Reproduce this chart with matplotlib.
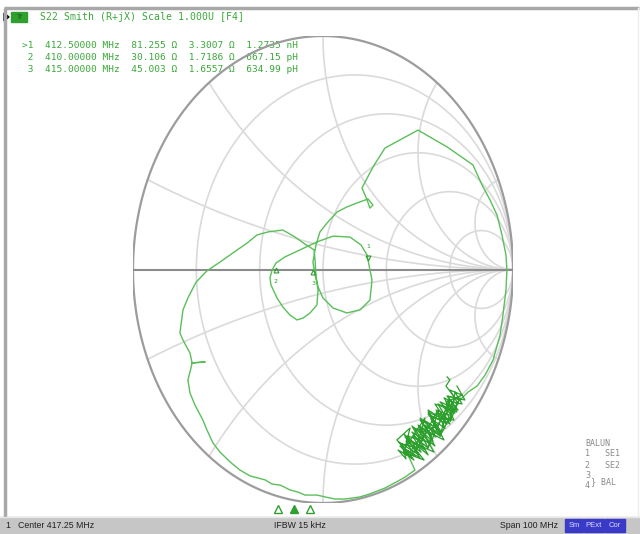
import numpy as np
import matplotlib
matplotlib.use('Agg')
import matplotlib.pyplot as plt
from matplotlib.patches import Rectangle, Polygon
from matplotlib import transforms

# sweep settings
f_center = 417.25  # MHz
f_span = 100.0     # MHz

# markers (freq MHz, R ohm, X ohm, L/C label)
marker_num = [1, 2, 3]
marker_freq = [412.5, 410.0, 415.0]
marker_R = [81.255, 30.106, 45.003]
marker_X = [3.3007, 1.7186, 1.6557]
marker_L = ['1.2735 nH', '667.15 pH', '634.99 pH']
active_marker = 1
Z0 = 50.0

# S22 trace read off the chart, reflection coefficient (real, imag)
# start of sweep (noisy cluster near the lower right edge)
start_re = [0.705, 0.747, 0.653, 0.711, 0.616, 0.679, 0.595, 0.653, 0.553, 0.621, 0.532, 0.595, 0.500,
            0.563, 0.468, 0.537, 0.432, 0.505, 0.400, 0.468, 0.395, 0.437, 0.416, 0.489, 0.447, 0.526,
            0.479, 0.568, 0.511, 0.605, 0.553, 0.647, 0.589, 0.679, 0.637, 0.711, 0.668, 0.732, 0.647,
            0.689, 0.574, 0.637, 0.511, 0.584, 0.447, 0.532, 0.421, 0.479,
            0.389, 0.458, 0.432, 0.537, 0.484, 0.605, 0.553, 0.668, 0.616, 0.721, 0.668, 0.695, 0.732,
            0.658, 0.695, 0.637, 0.668, 0.600, 0.642, 0.568, 0.616, 0.537, 0.579, 0.505, 0.553, 0.474,
            0.516, 0.437, 0.484, 0.411, 0.447]
start_im = [-0.499, -0.559, -0.542, -0.602, -0.567, -0.627, -0.602, -0.662, -0.619, -0.692, -0.645, -0.717, -0.666,
            -0.747, -0.696, -0.773, -0.717, -0.794, -0.739, -0.807, -0.773, -0.811, -0.747, -0.764, -0.713, -0.735,
            -0.679, -0.705, -0.645, -0.679, -0.610, -0.645, -0.576, -0.602, -0.550, -0.576, -0.516, -0.538, -0.567,
            -0.645, -0.636, -0.730, -0.679, -0.782, -0.730, -0.816, -0.782, -0.816,
            -0.730, -0.679, -0.764, -0.636, -0.782, -0.602, -0.764, -0.559, -0.713, -0.550, -0.653, -0.525, -0.576,
            -0.563, -0.615, -0.585, -0.645, -0.610, -0.679, -0.640, -0.713, -0.666, -0.735, -0.687, -0.764, -0.713,
            -0.782, -0.735, -0.799, -0.760, -0.794]
# main sweep: bottom edge, left side, figure eight, top, right edge
main_re = [0.484, 0.432, 0.395, 0.326, 0.247, 0.195, 0.116, 0.063, 0.011, -0.032, -0.095, -0.132, -0.174,
           -0.226, -0.268, -0.305, -0.342, -0.384, -0.437, -0.489, -0.542, -0.579, -0.611, -0.632, -0.674,
           -0.700, -0.711, -0.695, -0.689, -0.621, -0.689, -0.700, -0.737, -0.753, -0.737, -0.711, -0.668,
           -0.611, -0.542, -0.474, -0.400, -0.347, -0.289, -0.211, -0.147, -0.095, -0.047,
           -0.042, -0.037, -0.026, -0.032, -0.068, -0.105, -0.137, -0.174, -0.211, -0.242, -0.274, -0.279,
           -0.268, -0.247, -0.200, -0.121, -0.032, 0.053, 0.142, 0.200, 0.232, 0.242, 0.258, 0.247, 0.195,
           0.126, 0.053, 0.000, -0.026, -0.042, -0.053, -0.037, -0.016, 0.021, 0.074, 0.126, 0.179, 0.237,
           0.263, 0.247, 0.232, 0.205, 0.263, 0.326, 0.500, 0.653, 0.789, 0.837, 0.879, 0.916, 0.942, 0.963,
           0.968, 0.963, 0.947, 0.932, 0.895, 0.853, 0.811, 0.763]
main_im = [-0.859, -0.889, -0.906, -0.936, -0.961, -0.974, -0.983, -0.983, -0.974, -0.966, -0.966, -0.953, -0.944,
           -0.923, -0.919, -0.901, -0.893, -0.884, -0.859, -0.824, -0.782, -0.743, -0.687, -0.645, -0.580,
           -0.529, -0.473, -0.422, -0.400, -0.396, -0.400, -0.358, -0.302, -0.272, -0.173, -0.122, -0.054,
           -0.006, 0.032, 0.071, 0.113, 0.148, 0.161, 0.169, 0.139, 0.109, 0.084,
           0.041, -0.024, -0.088, -0.152, -0.186, -0.208, -0.216, -0.195, -0.161, -0.122, -0.066, -0.036,
           -0.002, 0.028, 0.054, 0.084, 0.118, 0.143, 0.139, 0.105, 0.062, 0.019, -0.045, -0.131, -0.173,
           -0.186, -0.165, -0.122, -0.075, -0.024, 0.032, 0.105, 0.161, 0.199, 0.246, 0.268, 0.285, 0.302,
           0.276, 0.263, 0.298, 0.349, 0.439, 0.520, 0.597, 0.525, 0.448, 0.362, 0.298, 0.233, 0.148, 0.062,
           -0.002, -0.088, -0.195, -0.281, -0.388, -0.452, -0.499, -0.525]
# end of sweep (back into the noisy cluster)
end_re = [0.721, 0.658, 0.705, 0.605, 0.668, 0.553, 0.621, 0.511, 0.589, 0.468, 0.553, 0.426, 0.511,
          0.405, 0.458, 0.500, 0.563, 0.616, 0.668, 0.695, 0.647, 0.668, 0.653]
end_im = [-0.559, -0.542, -0.610, -0.576, -0.662, -0.602, -0.713, -0.636, -0.756, -0.670, -0.794, -0.705, -0.807,
          -0.756, -0.782, -0.730, -0.687, -0.653, -0.593, -0.550, -0.499, -0.473, -0.460]

# smith grid values
r_grid = [0.2, 0.5, 1.0, 2.0, 5.0]
x_grid = [0.2, 0.5, 1.0, 2.0, 5.0]

green = '#5abf5a'
dark_green = '#2c9f2c'
txt_green = '#3aa83a'
grid_col = '#dadada'

fig = plt.figure(figsize=(6.4, 5.34), dpi=100)

# background / frame in pixel coords
bg = fig.add_axes([0, 0, 1, 1])
bg.set_xlim(0, 640)
bg.set_ylim(534, 0)
bg.axis('off')
bg.plot([5, 5], [8, 517], color='#a8a8a8', lw=2.5, solid_capstyle='butt')
bg.plot([4, 639], [8, 8], color='#a8a8a8', lw=2.5, solid_capstyle='butt')
bg.plot([638, 638], [8, 517], color='#eeeeee', lw=1.0)
bg.add_patch(Rectangle((0, 517), 640, 17, color='#c6c6c6', zorder=1))
bg.plot([0, 640], [517, 517], color='#e6e6e6', lw=1.0)

# header
bg.add_patch(Polygon([[4, 13], [4, 21], [9, 17]], closed=True, color='black'))
bg.add_patch(Rectangle((11, 12), 16, 10, color='#2f9f2f'))
bg.text(19, 17, 'Tr', fontsize=5, color='#145f14', ha='center', va='center', family='DejaVu Sans')
bg.text(40, 17, 'S22 Smith (R+jX) Scale 1.000U [F4]', fontsize=7.1, color=txt_green,
        family='DejaVu Sans Mono', va='center')

# marker readout lines
for i, n in enumerate(marker_num):
    pre = '>' if n == active_marker else ' '
    line = '%s%d  %.5f MHz  %.3f Ω  %.4f Ω  %s' % (pre, n, marker_freq[i], marker_R[i], marker_X[i], marker_L[i])
    bg.text(22, 45 + 12 * i, line, fontsize=6.8, color=txt_green, family='DejaVu Sans Mono', va='center')

# status bar
bg.text(5, 526, '1', fontsize=6.3, color='#202020', va='center', family='Liberation Sans')
bg.text(18, 526, 'Center %.2f MHz' % f_center, fontsize=6.3, color='#202020', va='center', family='Liberation Sans')
bg.text(300, 526, 'IFBW 15 kHz', fontsize=6.3, color='#202020', va='center', ha='center', family='Liberation Sans')
bg.text(558, 526, 'Span %d MHz' % f_span, fontsize=6.3, color='#202020', va='center', ha='right',
        family='Liberation Sans')
for x0, w, lab in [(565, 18, 'Sm'), (584, 20, 'PExt'), (605, 20, 'Cor')]:
    bg.add_patch(Rectangle((x0, 519), w, 13, color='#3a3ac8', zorder=2))
    bg.text(x0 + w / 2, 525.5, lab, fontsize=5.5, color='#dcdcff', ha='center', va='center', zorder=3,
            family='Liberation Sans')

# balun legend
leg_col = '#8a8a8a'
bg.text(585, 443, 'BALUN', fontsize=6, color=leg_col, family='DejaVu Sans Mono', va='center')
bg.text(585, 454, '1   SE1', fontsize=6, color=leg_col, family='DejaVu Sans Mono', va='center')
bg.text(585, 465, '2   SE2', fontsize=6, color=leg_col, family='DejaVu Sans Mono', va='center')
bg.text(585, 476, '3', fontsize=6, color=leg_col, family='DejaVu Sans Mono', va='center')
bg.text(585, 486, '4', fontsize=6, color=leg_col, family='DejaVu Sans Mono', va='center')
bg.text(591, 482, '} BAL', fontsize=6, color=leg_col, family='DejaVu Sans Mono', va='center')

# smith chart axes
ax = fig.add_axes([133 / 640, (534 - 503) / 534, 380 / 640, 467 / 534])
ax.set_xlim(-1, 1)
ax.set_ylim(-1, 1)
ax.axis('off')

th = np.linspace(0, 2 * np.pi, 400)
for r in r_grid:
    c = r / (1 + r)
    rad = 1 / (1 + r)
    ax.plot(c + rad * np.cos(th), rad * np.sin(th), color=grid_col, lw=1.2, zorder=1)
rr = np.concatenate([np.linspace(0, 1, 300), np.logspace(0, 4, 300)])
for xv in x_grid:
    for s in (1, -1):
        z = rr + 1j * s * xv
        g = (z - 1) / (z + 1)
        ax.plot(g.real, g.imag, color=grid_col, lw=1.2, zorder=1)
ax.plot(np.cos(th), np.sin(th), color='#9c9c9c', lw=1.6, zorder=2)
ax.plot([-1, 1], [0, 0], color='#8c8c8c', lw=1.5, zorder=2)

# trace: clean part lighter, noisy cluster darker (dense overlap)
ax.plot([start_re[-1]] + main_re + [end_re[0]], [start_im[-1]] + main_im + [end_im[0]],
        color=green, lw=1.0, zorder=3, solid_joinstyle='round')
ax.plot(start_re, start_im, color=dark_green, lw=0.9, zorder=3, solid_joinstyle='round')
ax.plot(end_re, end_im, color=dark_green, lw=0.9, zorder=3, solid_joinstyle='round')

# markers on the trace
for i, n in enumerate(marker_num):
    zm = (marker_R[i] + 1j * marker_X[i]) / Z0
    gm = (zm - 1) / (zm + 1)
    dy = 5 if n == active_marker else -5
    tr = transforms.offset_copy(ax.transData, fig=fig, x=0, y=dy, units='points')
    ax.plot(gm.real, gm.imag, marker='v' if dy > 0 else '^', ms=3.5, mfc='none', mec=dark_green, mew=0.8,
            transform=tr, zorder=4)
    ax.annotate(str(n), (gm.real, gm.imag), xytext=(0, 2.6 * dy), textcoords='offset points',
                fontsize=4.5, color=dark_green, ha='center', va='center', zorder=4)

# marker triangles along the frequency axis
axf = fig.add_axes([8 / 640, (534 - 514) / 534, 632 / 640, 10 / 534])
axf.set_xlim(f_center - f_span / 2, f_center + f_span / 2)
axf.set_ylim(0, 1)
axf.axis('off')
for i, n in enumerate(marker_num):
    axf.plot(marker_freq[i], 0.5, marker='^', ms=6, mec='#2f9f2f', mew=1.0,
             mfc='#2f9f2f' if n == active_marker else 'white', clip_on=False)

plt.savefig('out.png', dpi=100)
